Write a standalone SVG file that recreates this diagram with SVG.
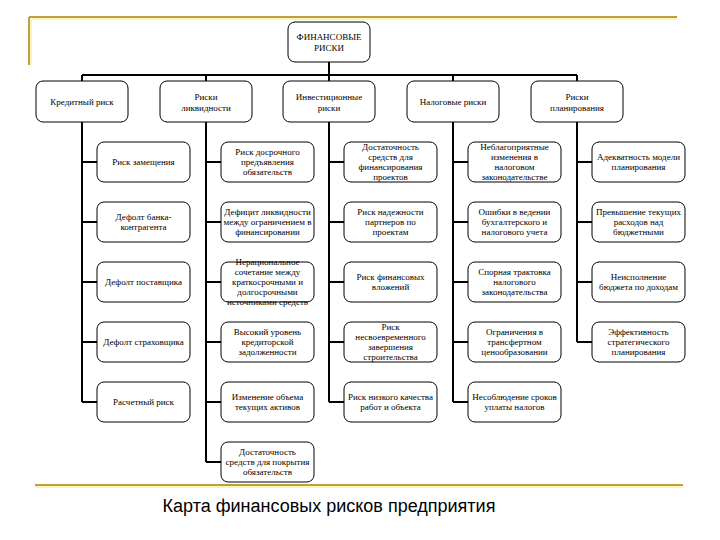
<svg xmlns="http://www.w3.org/2000/svg" width="720" height="540" viewBox="0 0 720 540">
<style>
.bx{fill:#fff;stroke:#000;stroke-width:1}
.t{font-family:"Liberation Serif","Times New Roman",serif;font-size:9px;fill:#000;text-anchor:middle}
.c{fill:none;stroke:#000;stroke-width:2}
.gold{fill:none;stroke:#B8A244;stroke-width:2}
.goldl{fill:none;stroke:#FFF4B8;stroke-width:2}
.cap{font-family:"Liberation Sans",Arial,sans-serif;font-size:18px;fill:#000;text-anchor:middle}
</style>
<rect width="720" height="540" fill="#fff"/>
<g id="frame">
<path class="goldl" d="M31 19 H677 M31 19 V65"/>
<path class="gold" d="M29 17 H677 M29 17 V65"/>
<line class="goldl" x1="35" y1="487" x2="683" y2="487"/>
<line class="gold" x1="35" y1="485" x2="683" y2="485"/>
</g>
<g id="connectors">
<path class="c" d="M329 62 V75 M82 75 H577 M82 75 V81 M206 75 V81 M329 75 V81 M453 75 V81 M577 75 V81"/>
<path class="c" d="M82 122 V402 M82 162 H97 M82 222 H97 M82 282 H97 M82 342 H97 M82 402 H97"/>
<path class="c" d="M206 122 V462 M206 162 H221 M206 222 H221 M206 282 H221 M206 342 H221 M206 402 H221 M206 462 H221"/>
<path class="c" d="M329 122 V402 M329 162 H344 M329 222 H344 M329 282 H344 M329 342 H344 M329 402 H344"/>
<path class="c" d="M453 122 V402 M453 162 H468 M453 222 H468 M453 282 H468 M453 342 H468 M453 402 H468"/>
<path class="c" d="M577 122 V342 M577 162 H592 M577 222 H592 M577 282 H592 M577 342 H592"/>
</g>
<g id="root"><rect class="bx" x="288" y="22" width="82" height="40" rx="7"/><text class="t" y="40"><tspan x="329">ФИНАНСОВЫЕ</tspan><tspan x="329" dy="11">РИСКИ</tspan></text></g>
<g id="credit"><rect class="bx" x="36" y="81" width="92" height="41" rx="7"/><text class="t" x="82" y="104.5">Кредитный риск</text></g>
<g id="liquidity"><rect class="bx" x="160" y="81" width="92" height="41" rx="7"/><text class="t" y="99.5"><tspan x="206">Риски</tspan><tspan x="206" dy="11">ликвидности</tspan></text></g>
<g id="invest"><rect class="bx" x="283" y="81" width="92" height="41" rx="7"/><text class="t" y="99.5"><tspan x="329">Инвестиционные</tspan><tspan x="329" dy="11">риски</tspan></text></g>
<g id="tax"><rect class="bx" x="407" y="81" width="92" height="41" rx="7"/><text class="t" x="453" y="104.5">Налоговые риски</text></g>
<g id="planning"><rect class="bx" x="531" y="81" width="92" height="41" rx="7"/><text class="t" y="99.5"><tspan x="577">Риски</tspan><tspan x="577" dy="11">планирования</tspan></text></g>

<g id="c1r0"><rect class="bx" x="97" y="142" width="93" height="40" rx="7"/><text class="t" x="143.5" y="165">Риск замещения</text></g>
<g id="c1r1"><rect class="bx" x="97" y="202" width="93" height="40" rx="7"/><text class="t" y="220"><tspan x="143.5">Дефолт банка-</tspan><tspan x="143.5" dy="10">контрагента</tspan></text></g>
<g id="c1r2"><rect class="bx" x="97" y="262" width="93" height="40" rx="7"/><text class="t" x="143.5" y="285">Дефолт поставщика</text></g>
<g id="c1r3"><rect class="bx" x="97" y="322" width="93" height="40" rx="7"/><text class="t" x="143.5" y="345">Дефолт страховщика</text></g>
<g id="c1r4"><rect class="bx" x="97" y="382" width="93" height="40" rx="7"/><text class="t" x="143.5" y="405">Расчетный риск</text></g>

<g id="c2r0"><rect class="bx" x="221" y="142" width="93" height="40" rx="7"/><text class="t" y="155"><tspan x="267.5">Риск досрочного</tspan><tspan x="267.5" dy="10">предъявления</tspan><tspan x="267.5" dy="10">обязательств</tspan></text></g>
<g id="c2r1"><rect class="bx" x="221" y="202" width="93" height="40" rx="7"/><text class="t" y="215"><tspan x="267.5">Дефицит ликвидности</tspan><tspan x="267.5" dy="10">между ограничением в</tspan><tspan x="267.5" dy="10">финансировании</tspan></text></g>
<g id="c2r2"><rect class="bx" x="221" y="262" width="93" height="40" rx="7"/><text class="t" y="265"><tspan x="267.5">Нерациональное</tspan><tspan x="267.5" dy="10">сочетание между</tspan><tspan x="267.5" dy="10">краткосрочными и</tspan><tspan x="267.5" dy="10">долгосрочными</tspan><tspan x="267.5" dy="10">источниками средств</tspan></text></g>
<g id="c2r3"><rect class="bx" x="221" y="322" width="93" height="40" rx="7"/><text class="t" y="335"><tspan x="267.5">Высокий уровень</tspan><tspan x="267.5" dy="10">кредиторской</tspan><tspan x="267.5" dy="10">задолженности</tspan></text></g>
<g id="c2r4"><rect class="bx" x="221" y="382" width="93" height="40" rx="7"/><text class="t" y="400"><tspan x="267.5">Изменение объема</tspan><tspan x="267.5" dy="10">текущих активов</tspan></text></g>
<g id="c2r5"><rect class="bx" x="221" y="442" width="93" height="40" rx="7"/><text class="t" y="455"><tspan x="267.5">Достаточность</tspan><tspan x="267.5" dy="10">средств для покрытия</tspan><tspan x="267.5" dy="10">обязательств</tspan></text></g>

<g id="c3r0"><rect class="bx" x="344" y="142" width="93" height="40" rx="7"/><text class="t" y="150"><tspan x="390.5">Достаточность</tspan><tspan x="390.5" dy="10">средств для</tspan><tspan x="390.5" dy="10">финансирования</tspan><tspan x="390.5" dy="10">проектов</tspan></text></g>
<g id="c3r1"><rect class="bx" x="344" y="202" width="93" height="40" rx="7"/><text class="t" y="215"><tspan x="390.5">Риск надежности</tspan><tspan x="390.5" dy="10">партнеров по</tspan><tspan x="390.5" dy="10">проектам</tspan></text></g>
<g id="c3r2"><rect class="bx" x="344" y="262" width="93" height="40" rx="7"/><text class="t" y="280"><tspan x="390.5">Риск финансовых</tspan><tspan x="390.5" dy="10">вложений</tspan></text></g>
<g id="c3r3"><rect class="bx" x="344" y="322" width="93" height="40" rx="7"/><text class="t" y="330"><tspan x="390.5">Риск</tspan><tspan x="390.5" dy="10">несвоевременного</tspan><tspan x="390.5" dy="10">завершения</tspan><tspan x="390.5" dy="10">строительства</tspan></text></g>
<g id="c3r4"><rect class="bx" x="344" y="382" width="93" height="40" rx="7"/><text class="t" y="400"><tspan x="390.5">Риск низкого качества</tspan><tspan x="390.5" dy="10">работ и объекта</tspan></text></g>

<g id="c4r0"><rect class="bx" x="468" y="142" width="93" height="40" rx="7"/><text class="t" y="150"><tspan x="514.5">Неблагоприятные</tspan><tspan x="514.5" dy="10">изменения в</tspan><tspan x="514.5" dy="10">налоговом</tspan><tspan x="514.5" dy="10">законодательстве</tspan></text></g>
<g id="c4r1"><rect class="bx" x="468" y="202" width="93" height="40" rx="7"/><text class="t" y="215"><tspan x="514.5">Ошибки в ведении</tspan><tspan x="514.5" dy="10">бухгалтерского и</tspan><tspan x="514.5" dy="10">налогового учета</tspan></text></g>
<g id="c4r2"><rect class="bx" x="468" y="262" width="93" height="40" rx="7"/><text class="t" y="275"><tspan x="514.5">Спорная трактовка</tspan><tspan x="514.5" dy="10">налогового</tspan><tspan x="514.5" dy="10">законодательства</tspan></text></g>
<g id="c4r3"><rect class="bx" x="468" y="322" width="93" height="40" rx="7"/><text class="t" y="335"><tspan x="514.5">Ограничения в</tspan><tspan x="514.5" dy="10">трансфертном</tspan><tspan x="514.5" dy="10">ценообразовании</tspan></text></g>
<g id="c4r4"><rect class="bx" x="468" y="382" width="93" height="40" rx="7"/><text class="t" y="400"><tspan x="514.5">Несоблюдение сроков</tspan><tspan x="514.5" dy="10">уплаты налогов</tspan></text></g>

<g id="c5r0"><rect class="bx" x="592" y="142" width="93" height="40" rx="7"/><text class="t" y="160"><tspan x="638.5">Адекватность модели</tspan><tspan x="638.5" dy="10">планирования</tspan></text></g>
<g id="c5r1"><rect class="bx" x="592" y="202" width="93" height="40" rx="7"/><text class="t" y="215"><tspan x="638.5">Превышение текущих</tspan><tspan x="638.5" dy="10">расходов над</tspan><tspan x="638.5" dy="10">бюджетными</tspan></text></g>
<g id="c5r2"><rect class="bx" x="592" y="262" width="93" height="40" rx="7"/><text class="t" y="280"><tspan x="638.5">Неисполнение</tspan><tspan x="638.5" dy="10">бюджета по доходам</tspan></text></g>
<g id="c5r3"><rect class="bx" x="592" y="322" width="93" height="40" rx="7"/><text class="t" y="335"><tspan x="638.5">Эффективность</tspan><tspan x="638.5" dy="10">стратегического</tspan><tspan x="638.5" dy="10">планирования</tspan></text></g>

<g id="caption"><text class="cap" x="329" y="512">Карта финансовых рисков предприятия</text></g>
</svg>
